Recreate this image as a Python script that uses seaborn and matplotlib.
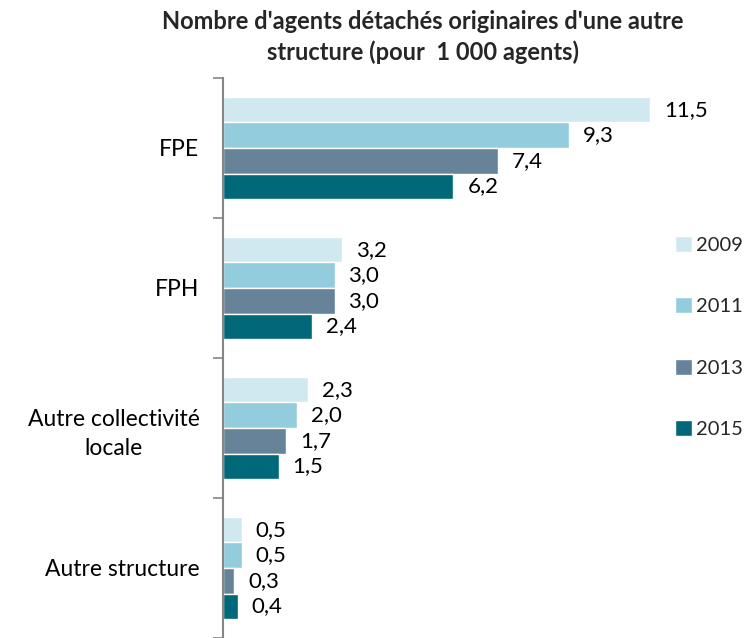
import matplotlib
matplotlib.use("Agg")
import matplotlib.pyplot as plt
import seaborn as sns
import pandas as pd

categories = ["FPE", "FPH", "Autre collectivité\nlocale", "Autre structure"]
years = ["2009", "2011", "2013", "2015"]
v2009 = [11.5, 3.2, 2.3, 0.5]
v2011 = [9.3, 3.0, 2.0, 0.5]
v2013 = [7.4, 3.0, 1.7, 0.3]
v2015 = [6.2, 2.4, 1.5, 0.4]
colors = ["#D0E9F0", "#93CDDD", "#668399", "#006878"]
title = "Nombre d'agents détachés originaires d'une autre\nstructure (pour  1 000 agents)"

rows = []
for y, vals in zip(years, [v2009, v2011, v2013, v2015]):
    for c, v in zip(categories, vals):
        rows.append({"cat": c, "year": y, "val": v})
df = pd.DataFrame(rows)

sns.set_theme(style="white")
plt.rcParams["font.family"] = ["Lato", "DejaVu Sans"]

fig = plt.figure(figsize=(7.53, 6.38), dpi=100)
ax = fig.add_axes([223/753, 0.0, (669-223)/753, 1 - 78/638])

sns.barplot(data=df, y="cat", x="val", hue="year", order=categories,
            hue_order=years, palette=colors, width=0.73, orient="h",
            saturation=1, ax=ax, legend=True)

for cont in ax.containers:
    ax.bar_label(cont, labels=[f"{b.get_width():.1f}".replace(".", ",") for b in cont],
                 padding=10, fontsize=16, color="#000000")

ax.set_xlim(0, 12)
ax.set_ylim(3.5, -0.5)
ax.set_xlabel("")
ax.set_ylabel("")
ax.set_xticks([])
ax.tick_params(axis="y", which="major", length=0, labelsize=16.5, pad=17, labelcolor="#000000")
ax.set_yticks([-0.5, 0.5, 1.5, 2.5, 3.5], minor=True)
ax.tick_params(axis="y", which="minor", length=7, color="#868686", width=1.2, left=True)
for s in ["top", "right", "bottom"]:
    ax.spines[s].set_visible(False)
ax.spines["left"].set_color("#868686")
ax.spines["left"].set_linewidth(1.5)
for lab in ax.get_yticklabels():
    lab.set_multialignment("center")
    lab.set_linespacing(1.45)

leg = ax.legend(loc="center left", bbox_to_anchor=(665/753, 1 - 337/638),
                bbox_transform=fig.transFigure, frameon=False, fontsize=14.5,
                handlelength=0.85, handleheight=0.85, handletextpad=0.2,
                labelspacing=2.15, borderpad=0)

fig.text(0.562, 0.985, title, ha="center", va="top", fontsize=17,
         fontweight="bold", linespacing=1.4)

fig.savefig("out.png", dpi=100)
